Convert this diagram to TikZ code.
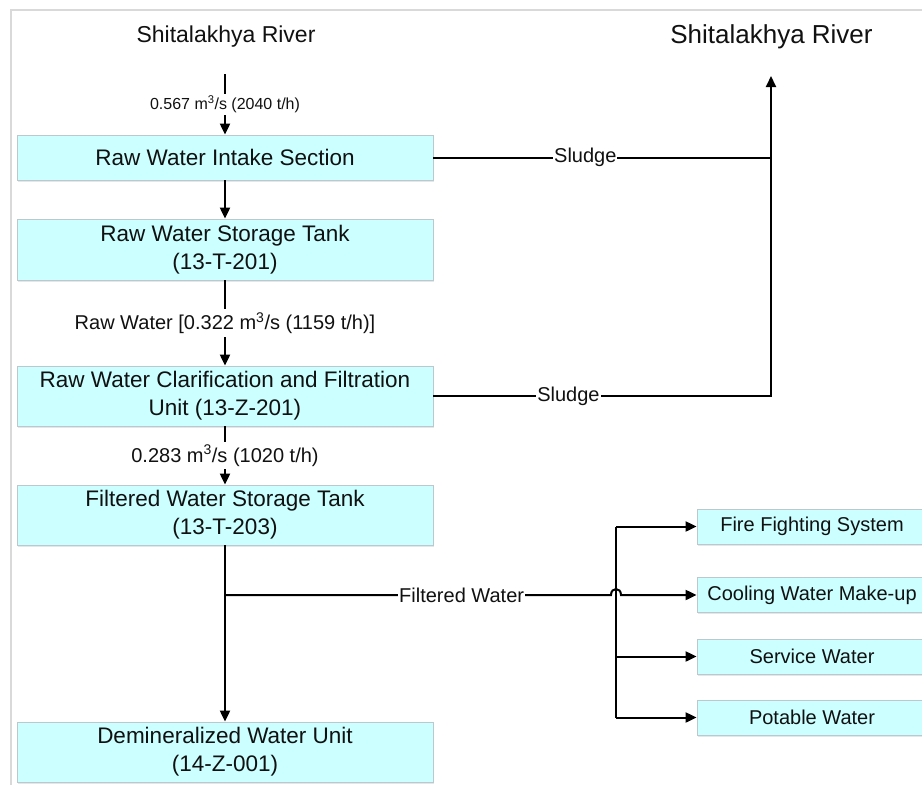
\documentclass[tikz,border=0pt]{standalone}
\usepackage{fontspec}
\setmainfont{Liberation Sans}
\usetikzlibrary{arrows.meta,shadows}
\definecolor{boxfill}{HTML}{CCFFFF}
\definecolor{boxline}{HTML}{BCC8CE}
\definecolor{framec}{HTML}{D9D9D9}
\definecolor{txt}{HTML}{111111}
\begin{document}
\begin{tikzpicture}[x=1pt,y=-1pt,
  box/.style={draw=boxline, line width=0.8pt, fill=boxfill, minimum width=416pt,
    minimum height=60pt, align=center, text=txt, font=\fontsize{22.5}{28}\selectfont,
    inner sep=0pt, drop shadow={shadow xshift=1pt, shadow yshift=-1.5pt, fill=boxline!70, opacity=0.6}},
  sbox/.style={box, minimum width=230pt, minimum height=35pt, font=\fontsize{20}{24}\selectfont},
  conn/.style={line width=2pt},
  arr/.style={conn, -{Triangle[length=11pt,width=10pt]}},
  lbl/.style={fill=white, inner sep=3pt, text=txt, font=\fontsize{20}{24}\selectfont},
  ttl/.style={inner sep=0pt, text=txt}]
\useasboundingbox (0,0) rectangle (922,785);
\clip (0,0) rectangle (922,785);
\fill[white] (0,0) rectangle (922,785);
\draw[framec, line width=2pt] (11,785) -- (11,10) -- (922,10);

\node[ttl, font=\fontsize{23}{27}\selectfont] (riverL) at (226,37) {Shitalakhya River};
\node[ttl, font=\fontsize{26}{30}\selectfont] (riverR) at (771.5,37) {Shitalakhya River};

\node[box, minimum height=45pt] (intake) at (225,157.5) {Raw Water Intake Section};
\node[box, minimum height=61pt] (storage) at (225,249.5) {Raw Water Storage Tank\\(13-T-201)};
\node[box] (clar) at (225,396) {Raw Water Clarification and Filtration\\Unit (13-Z-201)};
\node[box] (filt) at (225,515) {Filtered Water Storage Tank\\(13-T-203)};
\node[box] (demin) at (225,752) {Demineralized Water Unit\\(14-Z-001)};

\node[sbox] (fire) at (812,526.5) {Fire Fighting System};
\node[sbox] (cool) at (812,595) {Cooling Water Make-up};
\node[sbox] (serv) at (812,656.5) {Service Water};
\node[sbox] (pot) at (812,717.5) {Potable Water};

\coordinate (src) at (225,74);
\draw[arr] (src) -- node[lbl, inner sep=2pt, font=\fontsize{16}{19}\selectfont] {0.567 m\textsuperscript{3}/s (2040 t/h)} (intake);
\draw[arr] (intake) -- (storage);
\draw[arr] (storage) -- node[lbl] {Raw Water [0.322 m\textsuperscript{3}/s (1159 t/h)]} (clar);
\draw[arr] (clar) -- node[lbl] {0.283 m\textsuperscript{3}/s (1020 t/h)} (filt);
\draw[arr] (filt) -- (demin);

\coordinate (j1) at (771,157.5);
\coordinate (j2) at (771,396);
\coordinate (rin) at (771,76);
\draw[conn] (intake) -- node[lbl, pos=0.45, inner sep=1pt] {Sludge} (j1);
\draw[arr] (clar) -- node[lbl, pos=0.4, inner sep=1pt] {Sludge} (j2) -- (rin);

\coordinate (fw) at (225,595);
\coordinate (jmpA) at (611,595);
\coordinate (jmpB) at (621,595);
\draw[arr] (fw) -- node[lbl, pos=0.613, inner sep=1pt] {Filtered Water} (jmpA)
  .. controls (611,587) and (621,587) .. (jmpB) -- (cool);

\coordinate (dt) at (616,526.5);
\coordinate (ds) at (616,656.5);
\coordinate (db) at (616,717.5);
\draw[conn] (dt) -- (db);
\draw[arr] (dt) -- (fire);
\draw[arr] (ds) -- (serv);
\draw[arr] (db) -- (pot);
\end{tikzpicture}
\end{document}
